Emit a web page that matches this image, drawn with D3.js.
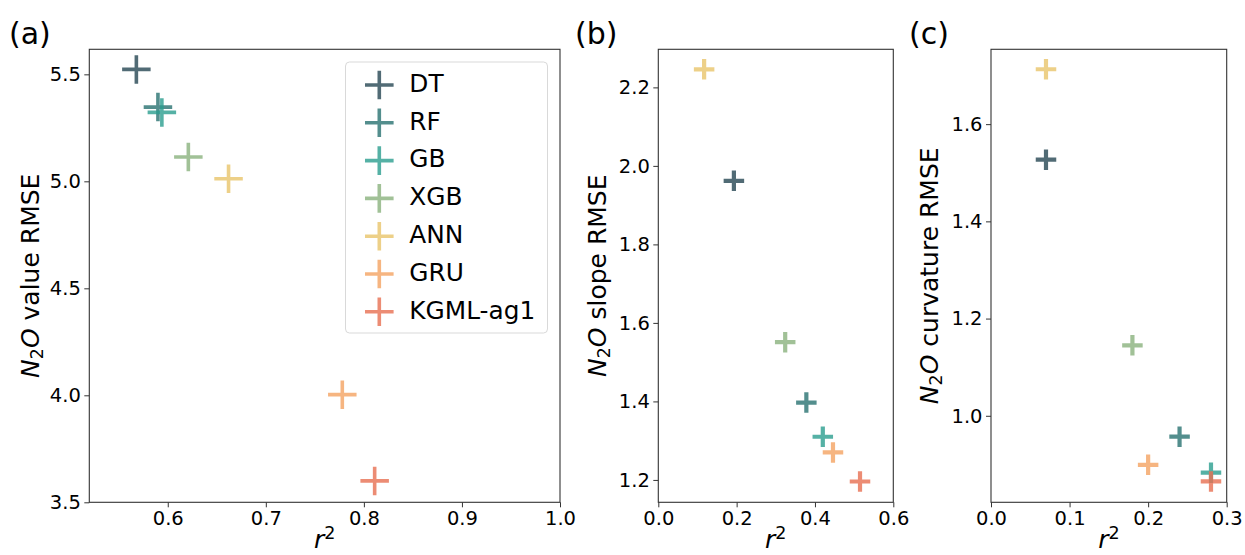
<!DOCTYPE html>
<html>
<head>
<meta charset="utf-8">
<script src="https://cdn.jsdelivr.net/npm/d3@7"></script>
<style>
  html, body { margin: 0; padding: 0; background: #fff; }
  svg { display: block; font-family: "DejaVu Sans", sans-serif; }
</style>
</head>
<body>
<svg id="chart" width="1245" height="555"></svg>
<script>
// ---------------- data ----------------
const models = ["DT", "RF", "GB", "XGB", "ANN", "GRU", "KGML-ag1"];
const modelColors = ["#264653", "#287271", "#2a9d8f", "#8ab17d", "#e9c46a", "#f4a261", "#e76f51"];

// (a) N2O value
const valueR2   = [0.568, 0.590, 0.594, 0.621, 0.662, 0.778, 0.811];
const valueRMSE = [5.523, 5.347, 5.322, 5.114, 5.012, 4.003, 3.600];
// (b) N2O slope
const slopeR2   = [0.193, 0.378, 0.420, 0.324, 0.117, 0.446, 0.515];
const slopeRMSE = [1.962, 1.397, 1.310, 1.551, 2.246, 1.270, 1.196];
// (c) N2O curvature
const curvR2    = [0.070, 0.240, 0.280, 0.180, 0.070, 0.200, 0.280];
const curvRMSE  = [1.527, 0.957, 0.883, 1.145, 1.713, 0.899, 0.865];

// tick labels
const xTicksA = [0.6, 0.7, 0.8, 0.9, 1.0];
const yTicksA = [3.5, 4.0, 4.5, 5.0, 5.5];
const xTicksB = [0.0, 0.2, 0.4, 0.6];
const yTicksB = [1.2, 1.4, 1.6, 1.8, 2.0, 2.2];
const xTicksC = [0.0, 0.1, 0.2, 0.3];
const yTicksC = [1.0, 1.2, 1.4, 1.6];

const panelLetters = ["(a)", "(b)", "(c)"];
const yLabelWords = ["value", "slope", "curvature"];

// ---------------- layout ----------------
const svg = d3.select("#chart");
const plotTop = 49.3, plotBottom = 502.3;

const panels = [
  { x0: 89.3, x1: 560, xDom: [0.52, 1.0], yDom: [3.5, 5.617], xs: valueR2, ys: valueRMSE,
    xt: xTicksA, yt: yTicksA, size: 28.5, sw: 3.6, letterX: 9, ylabX: 38.5, label: panelLetters[0], word: yLabelWords[0] },
  { x0: 658.3, x1: 893.3, xDom: [0, 0.6], yDom: [1.143, 2.297], xs: slopeR2, ys: slopeRMSE,
    xt: xTicksB, yt: yTicksB, size: 20.5, sw: 4.2, letterX: 575, ylabX: 606, label: panelLetters[1], word: yLabelWords[1] },
  { x0: 991, x1: 1226.7, xDom: [0, 0.3], yDom: [0.822, 1.754], xs: curvR2, ys: curvRMSE,
    xt: xTicksC, yt: yTicksC, size: 20.5, sw: 4.2, letterX: 909, ylabX: 938, label: panelLetters[2], word: yLabelWords[2] }
];

function plusPath(h) {
  return `M${-h},0L${h},0M0,${-h}L0,${h}`;
}

panels.forEach((p) => {
  const x = d3.scaleLinear().domain(p.xDom).range([p.x0, p.x1]);
  const y = d3.scaleLinear().domain(p.yDom).range([plotBottom, plotTop]);
  const g = svg.append("g");

  // markers
  const pts = models.map((m, i) => ({ m, c: modelColors[i], x: p.xs[i], y: p.ys[i] }));
  g.selectAll("path.mk").data(pts).join("path")
    .attr("class", "mk")
    .attr("transform", d => `translate(${x(d.x)},${y(d.y)})`)
    .attr("d", plusPath(p.size / 2))
    .attr("fill", "none")
    .attr("stroke", d => d.c)
    .attr("stroke-opacity", 0.8)
    .attr("stroke-width", p.sw);

  // axes
  const xa = g.append("g").attr("transform", `translate(0,${plotBottom})`)
    .call(d3.axisBottom(x).tickValues(p.xt).tickFormat(d3.format(".1f")).tickSize(5).tickSizeOuter(0).tickPadding(3.5));
  const ya = g.append("g").attr("transform", `translate(${p.x0},0)`)
    .call(d3.axisLeft(y).tickValues(p.yt).tickFormat(d3.format(".1f")).tickSize(5).tickSizeOuter(0).tickPadding(3.5));
  [xa, ya].forEach(a => {
    a.select(".domain").remove();
    a.selectAll(".tick line").attr("stroke", "#333").attr("stroke-width", 1);
    a.selectAll(".tick text").attr("fill", "#000").style("font-size", "19.5px").style("font-family", "DejaVu Sans");
  });

  // frame
  g.append("rect")
    .attr("x", p.x0).attr("y", plotTop)
    .attr("width", p.x1 - p.x0).attr("height", plotBottom - plotTop)
    .attr("fill", "none").attr("stroke", "#333").attr("stroke-width", 1.1);

  // x label r^2
  const xl = g.append("text")
    .attr("x", (p.x0 + p.x1) / 2).attr("y", 548)
    .attr("text-anchor", "middle")
    .style("font-size", "25px");
  xl.append("tspan").attr("font-style", "italic").text("r");
  xl.append("tspan").attr("dy", "-9").style("font-size", "17.5px").text("2");

  // y label N2O ... RMSE
  const yl = g.append("text")
    .attr("transform", `translate(${p.ylabX},${(plotTop + plotBottom) / 2}) rotate(-90)`)
    .attr("text-anchor", "middle")
    .style("font-size", "25px");
  yl.append("tspan").attr("font-style", "italic").text("N");
  yl.append("tspan").attr("dy", "4").style("font-size", "17.5px").text("2");
  yl.append("tspan").attr("dy", "-4").attr("font-style", "italic").text("O");
  yl.append("tspan").text(" " + p.word + " RMSE");

  // panel letter
  g.append("text")
    .attr("x", p.letterX).attr("y", 44)
    .style("font-size", "30px")
    .text(p.label);
});

// ---------------- legend (panel a) ----------------
const lg = svg.append("g");
lg.append("rect")
  .attr("x", 345.5).attr("y", 62).attr("width", 202).attr("height", 271)
  .attr("rx", 4).attr("ry", 4)
  .attr("fill", "#fff").attr("fill-opacity", 0.8)
  .attr("stroke", "#d9d9d9").attr("stroke-width", 1);

const items = lg.selectAll("g.item").data(models).join("g")
  .attr("class", "item")
  .attr("transform", (d, i) => `translate(379.3,${85 + i * 37.8})`);
items.append("path")
  .attr("d", plusPath(14.3))
  .attr("fill", "none")
  .attr("stroke", (d, i) => modelColors[i])
  .attr("stroke-opacity", 0.8)
  .attr("stroke-width", 3.6);
items.append("text")
  .attr("x", 30).attr("y", 6.8)
  .style("font-size", "24.8px")
  .text(d => d);
</script>
</body>
</html>
